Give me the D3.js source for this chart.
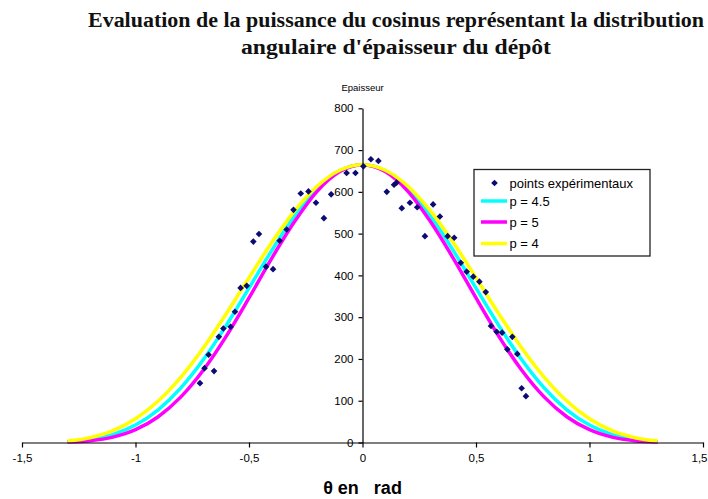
<!DOCTYPE html>
<html>
<head>
<meta charset="utf-8">
<script src="https://cdn.jsdelivr.net/npm/d3@7"></script>
<style>
  html, body { margin: 0; padding: 0; background: #fff; }
  svg { display: block; }
</style>
</head>
<body>
<svg id="chart" width="708" height="499"></svg>
<script>
// ---- data ----
const titleLines = ["Evaluation de la puissance du cosinus représentant la distribution",
                    "angulaire d'épaisseur du dépôt"];
const xTicks = [-1.5, -1, -0.5, 0, 0.5, 1, 1.5];
const yTicks = [0, 100, 200, 300, 400, 500, 600, 700, 800];

const pointsX = [-0.716,-0.696,-0.654,-0.678,-0.633,-0.613,-0.581,-0.562,-0.537,-0.510,
                 -0.481,-0.456,-0.425,-0.394,-0.365,-0.334,-0.304,-0.272,-0.238,-0.205,
                 -0.170,-0.138,-0.070,-0.031,0.004,0.037,0.070,0.107,0.139,0.150,
                 0.173,0.209,0.241,0.275,0.311,0.341,0.375,0.404,0.433,0.459,
                 0.488,0.515,0.543,0.566,0.591,0.615,0.660,0.638,0.682,0.701,0.720];
const pointsY = [142,178,171,210,253,273,277,313,370,375,
                 481,499,421,415,483,510,557,596,601,574,
                 537,594,645,645,661,678,674,600,617,622,
                 561,574,563,494,570,541,494,490,430,409,
                 397,385,360,279,265,263,253,223,212,130,111];

const curveX = [-1.3,-1.2,-1.1,-1.0,-0.9,-0.8,-0.7,-0.6,-0.5,-0.4,-0.3,-0.2,-0.1,0,
                0.1,0.2,0.3,0.4,0.5,0.6,0.7,0.8,0.9,1.0,1.1,1.2,1.3];
const curveP45 = [1.8,6.9,19.0,41.7,78.3,130.8,199.1,280.3,369.5,459.3,541.4,607.4,650.2,665,
                  650.2,607.4,541.4,459.3,369.5,280.3,199.1,130.8,78.3,41.7,19.0,6.9,1.8];
const curveP5  = [0.9,4.2,12.8,30.6,61.7,109.2,174.2,254.7,346.2,440.8,528.2,601.3,648.5,665,
                  648.5,601.3,528.2,440.8,346.2,254.7,174.2,109.2,61.7,30.6,12.8,4.2,0.9];
const curveP4  = [3.4,11.5,28.2,56.7,99.3,156.7,227.6,308.6,394.4,478.6,553.9,613.5,651.8,665,
                  651.8,613.5,553.9,478.6,394.4,308.6,227.6,156.7,99.3,56.7,28.2,11.5,3.4];

const seriesNames = ["points expérimentaux", "p = 4.5", "p = 5", "p = 4"];
const seriesColors = ["#0b0b72", "#00ffff", "#ff00ff", "#ffff00"];

// ---- drawing ----
const svg = d3.select("#chart");
const x = d3.scaleLinear().domain([-1.5, 1.5]).range([22, 703]);
const y = d3.scaleLinear().domain([0, 800]).range([442.5, 108.3]);

// title
svg.append("g").selectAll("text").data(titleLines).join("text")
  .attr("x", 396).attr("y", (d, i) => 27 + i * 27)
  .attr("text-anchor", "middle")
  .attr("font-family", "'Liberation Serif', 'DejaVu Serif', serif")
  .attr("font-weight", "bold")
  .attr("font-size", 20)
  .attr("textLength", (d, i) => i === 0 ? 616 : 310)
  .attr("lengthAdjust", "spacingAndGlyphs")
  .attr("fill", "#111")
  .text(d => d);

// curves
const line = d3.line().x((d, i) => x(curveX[i])).y(d => y(d)).curve(d3.curveMonotoneX);
[[curveP45, seriesColors[1]], [curveP5, seriesColors[2]], [curveP4, seriesColors[3]]].forEach(([vals, col]) => {
  svg.append("path").datum(vals)
    .attr("d", line)
    .attr("fill", "none")
    .attr("stroke", col)
    .attr("stroke-width", 3.5);
});

// axes
const fmt = d => String(d).replace(".", ",");
const xAxis = svg.append("g").attr("transform", `translate(0,${y(0)})`)
  .call(d3.axisBottom(x).tickValues(xTicks).tickFormat(fmt).tickSize(5).tickSizeOuter(0).tickPadding(6));
const yAxis = svg.append("g").attr("transform", `translate(${x(0)},0)`)
  .call(d3.axisLeft(y).tickValues(yTicks).tickSize(4).tickSizeOuter(0).tickPadding(5));
[xAxis, yAxis].forEach(g => {
  g.selectAll("path, line").attr("stroke", "#000").attr("stroke-width", 1.2);
  g.selectAll("text").attr("font-family", "'Liberation Sans', Arial, sans-serif")
    .attr("font-size", 11.5).attr("fill", "#000");
});
// keep the last x label inside the window
xAxis.selectAll(".tick").filter(d => d === 1.5).select("text")
  .attr("text-anchor", "end").attr("x", 4);

// points
const diamond = d3.symbol().type(d3.symbolSquare).size(22);
svg.append("g").selectAll("path").data(pointsX).join("path")
  .attr("d", diamond)
  .attr("transform", (d, i) => `translate(${x(d)},${y(pointsY[i])}) rotate(45)`)
  .attr("fill", seriesColors[0]);

// axis labels
svg.append("text")
  .attr("x", x(0)).attr("y", 91)
  .attr("text-anchor", "middle")
  .attr("font-family", "'Liberation Sans', Arial, sans-serif")
  .attr("font-size", 9.5).attr("fill", "#000")
  .text("Epaisseur");
svg.append("text")
  .attr("x", x(0)).attr("y", 494)
  .attr("text-anchor", "middle")
  .attr("font-family", "'Liberation Sans Narrow', 'Liberation Sans', Arial, sans-serif")
  .attr("font-weight", "bold")
  .attr("font-size", 18)
  .attr("fill", "#000")
  .text("θ en\u00a0\u00a0 rad");

// legend
const lg = svg.append("g").attr("transform", "translate(474,169.5)");
lg.append("rect").attr("width", 176).attr("height", 86.5)
  .attr("fill", "#fff").attr("stroke", "#222").attr("stroke-width", 1.3);
const rowY = [13.5, 31.5, 52.5, 74];
seriesNames.forEach((name, i) => {
  if (i === 0) {
    lg.append("path").attr("d", diamond)
      .attr("transform", `translate(20.5,${rowY[i]}) rotate(45)`)
      .attr("fill", seriesColors[0]);
  } else {
    lg.append("line").attr("x1", 7).attr("x2", 33)
      .attr("y1", rowY[i]).attr("y2", rowY[i])
      .attr("stroke", seriesColors[i]).attr("stroke-width", 3.5);
  }
  lg.append("text").attr("x", 35.5).attr("y", rowY[i]).attr("dy", "0.35em")
    .attr("font-family", "'Liberation Sans', Arial, sans-serif")
    .attr("font-size", 13).attr("fill", "#000")
    .text(name);
});
</script>
</body>
</html>
